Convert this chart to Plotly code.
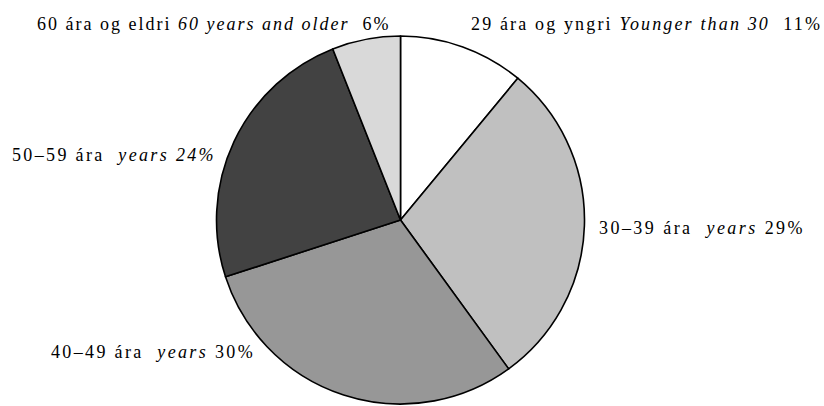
import plotly.graph_objects as go

W, H = 824, 406

labels_is = ["29 ára og yngri", "30–39 ára", "40–49 ára", "50–59 ára", "60 ára og eldri"]
labels_en = ["Younger than 30", "years", "years", "years", "60 years and older"]
values = [11, 29, 30, 24, 6]
colors = ["#ffffff", "#c0c0c0", "#979797", "#424242", "#d9d9d9"]

NB = "\u00a0"
FONT = "Liberation Serif"

fig = go.Figure(go.Pie(
    values=values,
    labels=labels_is,
    sort=False,
    direction="clockwise",
    rotation=0,
    textinfo="none",
    hoverinfo="none",
    marker=dict(colors=colors, line=dict(color="#000000", width=1.6)),
    domain=dict(x=[216 / W, 585 / W], y=[1 - 404 / H, 1 - 36 / H]),
    showlegend=False,
))

# label positions in pixels (left x, centre y, letter spacing)
label_pos = [(469, 24, 2.15), (597, 228, 2.45), (49, 352, 2.35), (10, 155, 2.35), (35, 24, 2.0)]
for i, (px, py, ls) in enumerate(label_pos):
    LS = f"letter-spacing:{ls}px"
    if i == 0:
        parts = (labels_is[i], NB, labels_en[i], NB * 2, f"{values[i]}%", False)
    elif i in (1, 2):
        parts = (labels_is[i], NB * 2, labels_en[i], NB, f"{values[i]}%", False)
    elif i == 3:
        parts = (labels_is[i], NB * 2, labels_en[i], " ", f"{values[i]}%", True)
    else:
        parts = (labels_is[i], NB, labels_en[i], NB * 2, f"{values[i]}%", False)
    a, s1, b, s2, c, ital_pct = parts
    if ital_pct:
        txt = (f'<span style="{LS}">{a}{s1}</span>'
               f'<span style="{LS};font-style:italic">{b}{s2}{c}</span>')
    else:
        txt = (f'<span style="{LS}">{a}{s1}</span>'
               f'<span style="{LS};font-style:italic">{b}</span>'
               f'<span style="{LS}">{s2}{c}</span>')
    fig.add_annotation(
        x=px / W, y=1 - py / H, xref="paper", yref="paper",
        xanchor="left", yanchor="middle", showarrow=False, text=txt,
        font=dict(family=FONT, size=18, color="#000000"),
    )

fig.update_layout(
    width=W, height=H,
    margin=dict(l=0, r=0, t=0, b=0),
    paper_bgcolor="#ffffff",
    plot_bgcolor="#ffffff",
    font=dict(family=FONT),
)

fig.write_html(
    "out.html",
    config={"displayModeBar": False, "staticPlot": True},
    post_script="document.body.style.margin='0';document.body.style.overflow='hidden';",
)
